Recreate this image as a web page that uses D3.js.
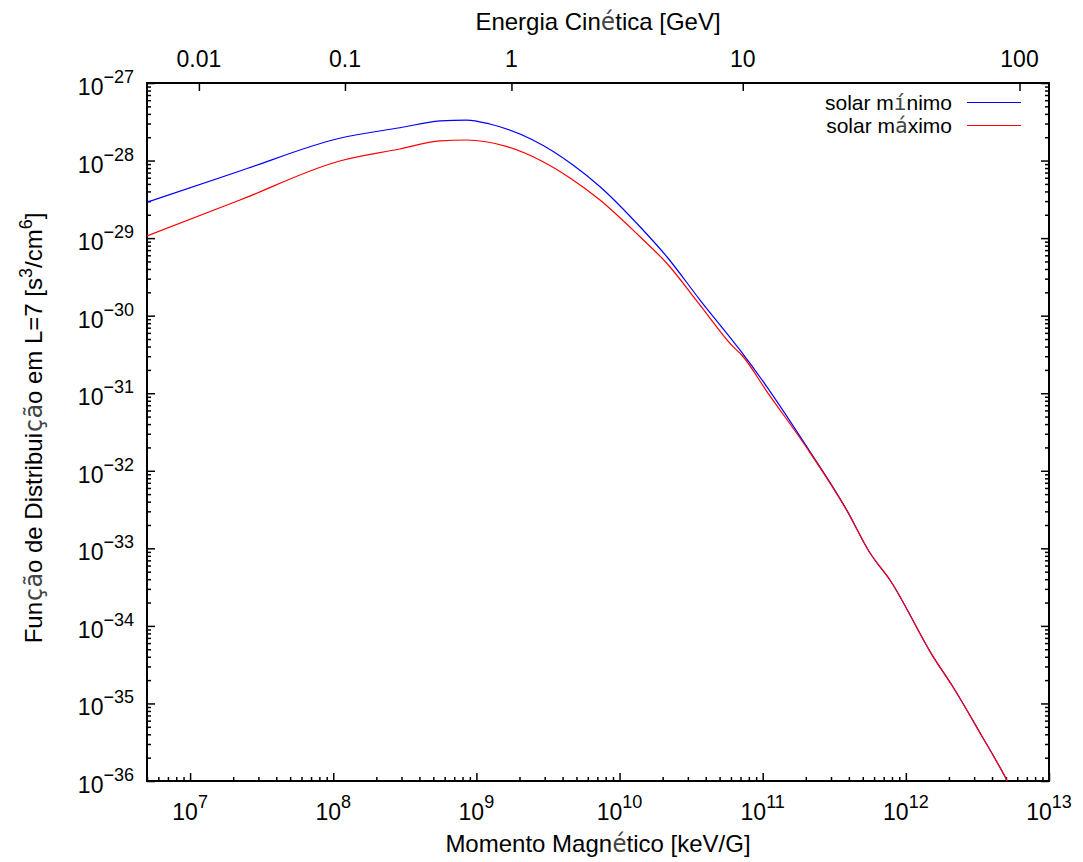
<!DOCTYPE html>
<html><head><meta charset="utf-8">
<script src="https://cdn.jsdelivr.net/npm/d3@7"></script>
<style>
body{margin:0;background:#fff}
text{font-family:"Liberation Sans",Arial,Helvetica,sans-serif;fill:#000}
.alt{font-family:"DejaVu Sans Mono",monospace;fill:#444}
</style>
</head><body><svg id="c" width="1083" height="862"></svg>
<script>
// ---- data ----
const muMin = [5.0e6, 2.23e7, 1.11e8, 2.92e8, 5.57e8, 8.55e8, 1.24e9, 2.48e9, 4.73e9, 7.31e9, 1.39e10, 2.14e10, 3.65e10, 6.93e10, 1.07e11, 2.03e11, 3.86e11, 5.62e11, 7.74e11, 1.55e12, 2.13e12, 3.30e12, 5.07e12, 5.4e12];
const fMin  = [2.90e-29, 7.33e-29, 1.94e-28, 2.65e-28, 3.24e-28, 3.33e-28, 2.96e-28, 1.84e-28, 8.77e-29, 4.60e-29, 1.40e-29, 5.75e-30, 1.59e-30, 3.61e-31, 1.21e-31, 2.05e-32, 3.13e-33, 8.71e-34, 3.91e-34, 4.01e-35, 1.64e-35, 4.16e-36, 1.03e-36, 8.2e-37];
const muMax = [5.0e6, 2.23e7, 1.11e8, 2.92e8, 5.57e8, 8.55e8, 1.64e9, 2.92e9, 4.51e9, 7.30e9, 1.39e10, 2.13e10, 3.65e10, 6.21e10, 7.13e10, 1.07e11, 2.03e11, 3.86e11, 5.62e11, 7.74e11, 1.55e12, 2.13e12, 3.30e12, 5.07e12, 5.4e12];
const fMax  = [1.07e-29, 3.10e-29, 9.86e-29, 1.41e-28, 1.79e-28, 1.84e-28, 1.51e-28, 9.66e-29, 5.96e-29, 3.10e-29, 1.04e-29, 4.78e-30, 1.37e-30, 3.98e-31, 3.11e-31, 1.05e-31, 1.98e-32, 3.10e-33, 8.71e-34, 3.91e-34, 4.01e-35, 1.64e-35, 4.16e-36, 1.03e-36, 8.2e-37];
const seriesNames = ["solar m|í|nimo", "solar m|á|ximo"];
const seriesColors = ["#0000ff", "#ff0000"];
const xExponents = [7, 8, 9, 10, 11, 12, 13];
const yExponents = [-27, -28, -29, -30, -31, -32, -33, -34, -35, -36];
const energyTicks = [0.01, 0.1, 1, 10, 100];          // GeV
const energyTickLabels = ["0.01", "0.1", "1", "10", "100"];
const PROTON_MC2 = 0.938;      // GeV
const MU_PER_GEV2 = 6.11e8;    // keV/G per GeV^2 at L=7
const muOfEnergy = E => MU_PER_GEV2 * E * (E + 2 * PROTON_MC2);

// ---- layout ----
const L = 147, R = 1049, T = 83, B = 781;
const svg = d3.select("#c");
const x = d3.scaleLog().domain([5e6, 1e13]).range([L, R]);
const y = d3.scaleLog().domain([1e-36, 1e-27]).range([B, T]);

svg.append("clipPath").attr("id", "clip").append("rect")
  .attr("x", L).attr("y", T).attr("width", R - L).attr("height", B - T);

function richText(sel, str) {
  str.split("|").forEach((s, i) => {
    if (!s) return;
    const t = sel.append("tspan").text(s);
    if (i % 2 === 1) t.attr("class", "alt");
  });
}

const xMinor = [];
for (let e = 6; e <= 12; e++) for (let m = 2; m <= 9; m++) { const v = m * Math.pow(10, e); if (v >= 5e6 && v <= 1e13) xMinor.push(v); }
const yMinor = [];
for (let e = -37; e <= -28; e++) for (let m = 2; m <= 9; m++) { const v = m * Math.pow(10, e); if (v >= 1e-36 && v <= 1e-27) yMinor.push(v); }

function styleAxis(g) { g.select(".domain").remove(); g.selectAll("line").attr("stroke", "#000").attr("stroke-width", 1.5); g.selectAll("text").remove(); }

// bottom axis
svg.append("g").attr("transform", `translate(0,${B})`)
  .call(d3.axisBottom(x).tickValues(xMinor).tickSize(-4).tickFormat("")).call(styleAxis);
svg.append("g").attr("transform", `translate(0,${B})`)
  .call(d3.axisBottom(x).tickValues(xExponents.map(e => Math.pow(10, e))).tickSize(-8).tickFormat("")).call(styleAxis);
xExponents.forEach(e => {
  const t = svg.append("text").attr("x", x(Math.pow(10, e))).attr("y", 820)
    .attr("text-anchor", "middle").style("font-size", "23px");
  t.append("tspan").text("10");
  t.append("tspan").attr("dy", -12).style("font-size", "18px").text(e);
});

// left and right axes
[[L, d3.axisLeft], [R, d3.axisRight]].forEach(([px, ax]) => {
  svg.append("g").attr("transform", `translate(${px},0)`)
    .call(ax(y).tickValues(yMinor).tickSize(-4).tickFormat("")).call(styleAxis);
  svg.append("g").attr("transform", `translate(${px},0)`)
    .call(ax(y).tickValues(yExponents.map(e => Math.pow(10, e))).tickSize(-8).tickFormat("")).call(styleAxis);
});
yExponents.forEach(e => {
  const t = svg.append("text").attr("x", 134).attr("y", y(Math.pow(10, e)) + 12)
    .attr("text-anchor", "end").style("font-size", "23px");
  t.append("tspan").text("10");
  t.append("tspan").attr("dy", -12).style("font-size", "18px").text("\u2212" + Math.abs(e));
});

// top axis (kinetic energy)
svg.append("g").attr("transform", `translate(0,${T})`)
  .call(d3.axisTop(x).tickValues(energyTicks.map(muOfEnergy)).tickSize(-8).tickFormat("")).call(styleAxis);
energyTicks.forEach((E, i) => {
  svg.append("text").attr("x", x(muOfEnergy(E))).attr("y", 67)
    .attr("text-anchor", "middle").style("font-size", "23px").text(energyTickLabels[i]);
});

// frame
svg.append("rect").attr("x", L).attr("y", T).attr("width", R - L).attr("height", B - T)
  .attr("fill", "none").attr("stroke", "#000").attr("stroke-width", 2);

// titles
richText(svg.append("text").attr("x", 598).attr("y", 30).attr("text-anchor", "middle").style("font-size", "24px"), "Energia Cin|é|tica [GeV]");
richText(svg.append("text").attr("x", 598).attr("y", 852).attr("text-anchor", "middle").style("font-size", "24px"), "Momento Magn|é|tico [keV/G]");
const yt = svg.append("text").attr("transform", "translate(42,428) rotate(-90)")
  .attr("text-anchor", "middle").style("font-size", "24px");
richText(yt, "Fun|çã|o de Distribui|çã|o em L=7 [s");
yt.append("tspan").attr("dy", -10).style("font-size", "18px").text("3");
yt.append("tspan").attr("dy", 10).text("/cm");
yt.append("tspan").attr("dy", -10).style("font-size", "18px").text("6");
yt.append("tspan").attr("dy", 10).text("]");

// curves
const line = d3.line().x(d => x(d[0])).y(d => y(d[1])).curve(d3.curveMonotoneX);
const series = [d3.zip(muMin, fMin), d3.zip(muMax, fMax)];
const gLines = svg.append("g").attr("clip-path", "url(#clip)");
series.forEach((s, i) => {
  gLines.append("path").datum(s).attr("d", line).attr("fill", "none")
    .attr("stroke", seriesColors[i]).attr("stroke-width", 1.2);
});

// legend
seriesNames.forEach((n, i) => {
  const yy = 102.5 + i * 23;
  richText(svg.append("text").attr("x", 952).attr("y", yy + 7).attr("text-anchor", "end").style("font-size", "21px"), n);
  svg.append("line").attr("x1", 967).attr("x2", 1021).attr("y1", yy).attr("y2", yy)
    .attr("stroke", seriesColors[i]).attr("stroke-width", 1.2);
});
</script>
</body></html>
